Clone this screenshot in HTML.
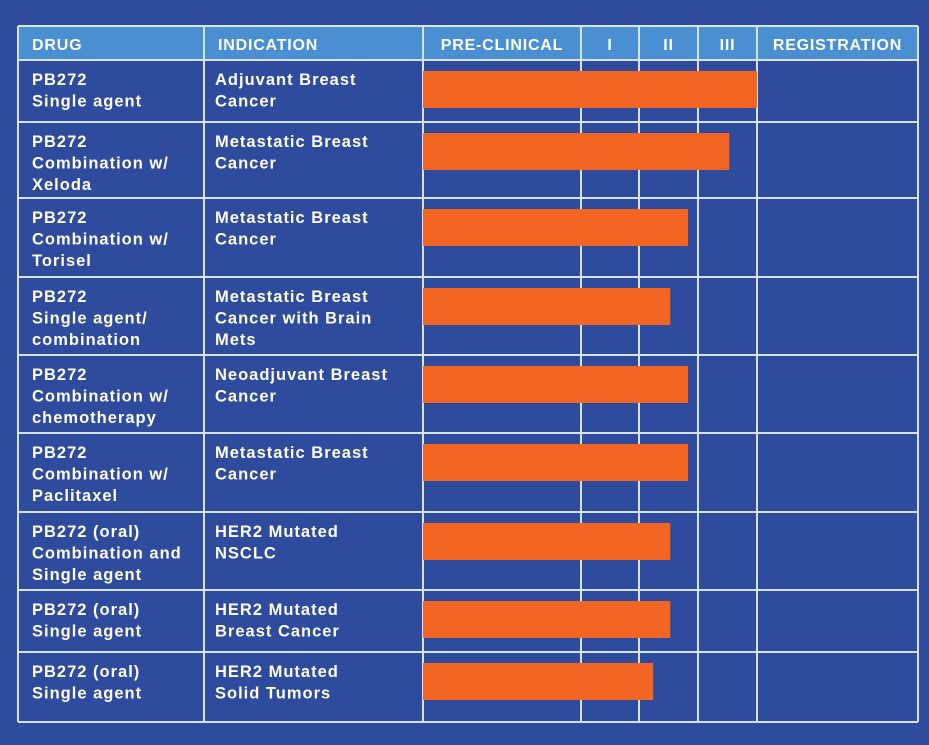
<!DOCTYPE html>
<html><head><meta charset="utf-8"><style>
body{margin:0;width:929px;height:745px;background:#2f4b9e;overflow:hidden;font-family:"Liberation Sans",sans-serif}
svg{display:block}
text{font-family:"Liberation Sans",sans-serif;font-weight:bold;fill:#fff}
</style></head><body>
<svg id="chart" width="929" height="745"></svg>
<script>
const drugs=[["PB272","Single agent"],["PB272","Combination w/","Xeloda"],["PB272","Combination w/","Torisel"],["PB272","Single agent/","combination"],["PB272","Combination w/","chemotherapy"],["PB272","Combination w/","Paclitaxel"],["PB272 (oral)","Combination and","Single agent"],["PB272 (oral)","Single agent"],["PB272 (oral)","Single agent"]];
const indications=[["Adjuvant Breast","Cancer"],["Metastatic Breast","Cancer"],["Metastatic Breast","Cancer"],["Metastatic Breast","Cancer with Brain","Mets"],["Neoadjuvant Breast","Cancer"],["Metastatic Breast","Cancer"],["HER2 Mutated","NSCLC"],["HER2 Mutated","Breast Cancer"],["HER2 Mutated","Solid Tumors"]];
const progress=[4.0,3.53,2.83,2.53,2.83,2.83,2.53,2.53,2.24];
const headers=["DRUG","INDICATION","PRE-CLINICAL","I","II","III","REGISTRATION"];
const colX=[18,204,423,581,639,698,757,918];
const rowY=[60,122,198,277,355,433,512,590,652,722];
const phaseX=[423,581,639,698,757];
function xScale(v){const i=Math.min(Math.floor(v),3);return phaseX[i]+(v-i)*(phaseX[i+1]-phaseX[i]);}
const NS="http://www.w3.org/2000/svg",svg=document.getElementById('chart');
function el(t,a){const e=document.createElementNS(NS,t);for(const k in a)e.setAttribute(k,a[k]);svg.appendChild(e);return e;}
let h=el('rect',{x:18,y:26,width:900,height:34,fill:'#4a8fd2'});


colX.forEach(x=>{const l=el('line',{x1:x,x2:x,y1:26,y2:722,stroke:'#d6e2f5','stroke-width':2});

});
[26].concat(rowY).forEach(y=>{const l=el('line',{x1:18,x2:918,y1:y,y2:y,stroke:'#d6e2f5','stroke-width':2});

});
headers.forEach((t,i)=>{const center=i>=2;const x=center?(colX[i]+colX[i+1])/2:colX[i]+14;
const e=el('text',{x:x,y:50,'font-size':16,'text-anchor':center?'middle':'start','letter-spacing':'0.8'});e.textContent=t;

});
progress.forEach((v,i)=>{const top=rowY[i];
const b=el('rect',{x:xScale(0),y:top+11,width:xScale(v)-xScale(0),height:37,fill:'#f26522'});


drugs[i].forEach((l,j)=>{const t=el('text',{x:32,y:top+25+j*21.5,'font-size':16.5,'letter-spacing':'1'});t.textContent=l;

});
indications[i].forEach((l,j)=>{const t=el('text',{x:215,y:top+25+j*21.5,'font-size':16.5,'letter-spacing':'1'});t.textContent=l;

});
});
</script>
</body></html>
